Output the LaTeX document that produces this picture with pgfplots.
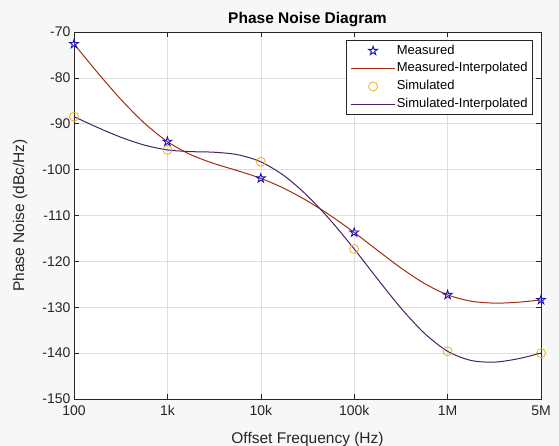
\documentclass[border=0pt]{standalone}
\usepackage{fontspec}
\setmainfont{Liberation Sans}
\usepackage{pgfplots}
\pgfplotsset{compat=1.18}
\usetikzlibrary{backgrounds}
\definecolor{figbg}{RGB}{247,247,247}
\definecolor{gridc}{RGB}{222,222,222}
\definecolor{axc}{RGB}{38,38,38}
\definecolor{measc}{RGB}{20,20,190}
\definecolor{simc}{RGB}{237,177,32}
\definecolor{measline}{RGB}{165,45,20}
\definecolor{simline}{RGB}{70,35,105}
\pgfdeclareplotmark{pentagram}{%
  \pgfpathmoveto{\pgfpointpolar{90}{\pgfplotmarksize}}%
  \pgfpathlineto{\pgfpointpolar{126}{0.382\pgfplotmarksize}}%
  \pgfpathlineto{\pgfpointpolar{162}{\pgfplotmarksize}}%
  \pgfpathlineto{\pgfpointpolar{198}{0.382\pgfplotmarksize}}%
  \pgfpathlineto{\pgfpointpolar{234}{\pgfplotmarksize}}%
  \pgfpathlineto{\pgfpointpolar{270}{0.382\pgfplotmarksize}}%
  \pgfpathlineto{\pgfpointpolar{306}{\pgfplotmarksize}}%
  \pgfpathlineto{\pgfpointpolar{342}{0.382\pgfplotmarksize}}%
  \pgfpathlineto{\pgfpointpolar{18}{\pgfplotmarksize}}%
  \pgfpathlineto{\pgfpointpolar{54}{0.382\pgfplotmarksize}}%
  \pgfpathclose
  \pgfusepathqstroke
}
\pgfplotsset{
  marklegend/.style={legend image code/.code={\draw[mark repeat=2,mark phase=2,##1] plot coordinates {(0pt,0pt)(22pt,0pt)(44pt,0pt)};}},
  linelegend/.style={legend image code/.code={\draw[##1] (0pt,0pt) -- (44pt,0pt);}},
}
\begin{document}
\begin{tikzpicture}
\begin{axis}[
  scale only axis,
  width=467pt, height=367pt,
  xmin=0, xmax=5, ymin=-150, ymax=-70,
  xtick={0,1,2,3,4,5},
  xticklabels={100,1k,10k,100k,1M,5M},
  ytick={-150,-140,-130,-120,-110,-100,-90,-80,-70},
  yticklabels={-150,-140,-130,-120,-110,-100,-90,-80,-70},
  tick align=inside,
  major tick length=5pt,
  tick style={axc, line width=0.6pt},
  axis line style={axc, line width=0.8pt},
  grid=major,
  major grid style={gridc, line width=0.6pt},
  axis background/.style={fill=white},
  ticklabel style={font=\fontsize{14}{16}\selectfont, text=black!85},
  xticklabel style={yshift=-3pt},
  title={Phase Noise Diagram},
  title style={font=\fontsize{15.5}{18}\selectfont\bfseries, yshift=-4.5pt},
  xlabel={Offset Frequency (Hz)},
  ylabel={Phase Noise (dBc/Hz)},
  xlabel style={font=\fontsize{15.5}{18}\selectfont, at={(axis description cs:0.5,-0.109)}, anchor=center, text=black!85},
  ylabel style={font=\fontsize{15.5}{18}\selectfont, at={(axis description cs:-0.1156,0.5)}, anchor=center, text=black!85},
  legend style={at={(rel axis cs:0.983,0.977)}, anchor=north east,
    draw=axc, line width=0.6pt, fill=white,
    font=\fontsize{13}{15}\selectfont,
    row sep=3.6pt, inner xsep=4pt, inner ysep=3pt,
    nodes={inner sep=1.2pt, text height=9.2pt, text depth=2.6pt, anchor=west}},
  legend cell align=left,
]
\addplot[only marks, mark=pentagram, mark size=4.6pt, measc, line width=0.9pt, marklegend]
  coordinates {(0,-72.6) (1,-93.9) (2,-101.9) (3,-113.7) (4,-127.3) (5,-128.4)};
\addlegendentry{Measured}
\addplot[measline, line width=1pt, smooth, no marks, linelegend]
  coordinates {
  (0,-72.6) (0.25,-78.8) (0.5,-84.65) (0.75,-89.8)
  (1,-93.9) (1.25,-96.74) (1.5,-98.68) (1.75,-100.23)
  (2,-101.9) (2.25,-104.1) (2.5,-106.85) (2.75,-110.08)
  (3,-113.7) (3.25,-117.6) (3.5,-121.43) (3.75,-124.79)
  (4,-127.3) (4.25,-128.67) (4.5,-129.1) (4.75,-128.91)
  (5,-128.4)};
\addlegendentry{Measured-Interpolated}
\addplot[only marks, mark=o, mark size=4.5pt, simc, line width=0.8pt, marklegend]
  coordinates {(0,-88.45) (1,-95.7) (2,-98.3) (3,-117.3) (4,-139.6) (5,-140.0)};
\addlegendentry{Simulated}
\addplot[simline, line width=1pt, smooth, no marks, linelegend]
  coordinates {
  (0,-88.45) (0.25,-90.79) (0.5,-92.92) (0.75,-94.63)
  (1,-95.7) (1.25,-96.07) (1.5,-96.21) (1.75,-96.74)
  (2,-98.3) (2.25,-101.34) (2.5,-105.72) (2.75,-111.14)
  (3,-117.3) (3.25,-123.84) (3.5,-130.17) (3.75,-135.64)
  (4,-139.6) (4.25,-141.59) (4.5,-141.96) (4.75,-141.25)
  (5,-140.0)};
\addlegendentry{Simulated-Interpolated}
\end{axis}
\pgfresetboundingbox
\begin{pgfonlayer}{background}
\fill[figbg] (-74pt,-47pt) rectangle (485pt,399pt);
\end{pgfonlayer}
\end{tikzpicture}
\end{document}
